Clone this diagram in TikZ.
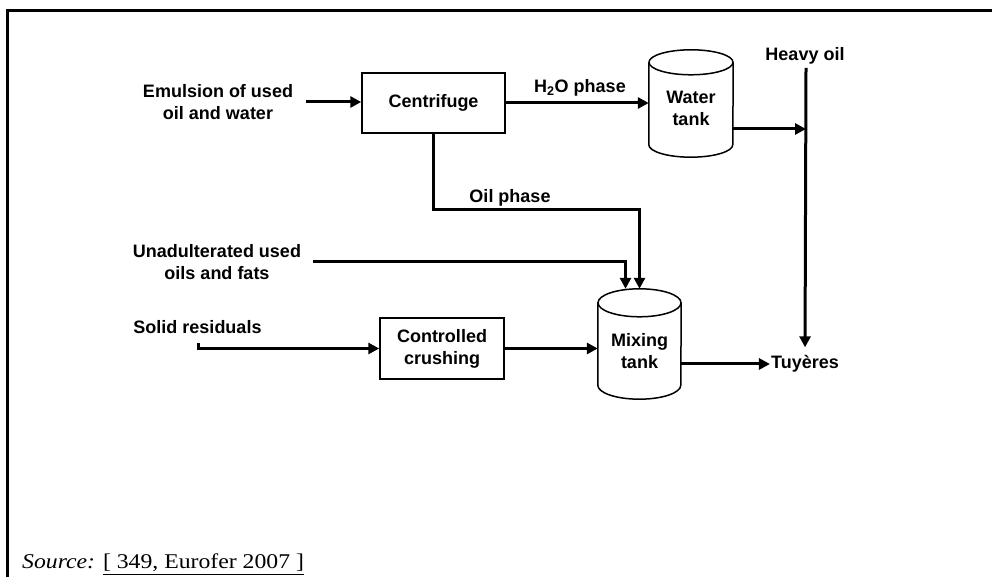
\documentclass[tikz,border=0pt]{standalone}
\usepackage{fontspec}
\setmainfont{Liberation Sans}
\newfontfamily\srcfont{Liberation Serif}[FakeStretch=1.13]
\usetikzlibrary{arrows.meta,calc}

\begin{document}
\begin{tikzpicture}[x=1pt, y=1pt,
    proc/.style={rectangle, draw, line width=1.5pt, inner sep=0pt, align=center, font=\fontsize{18pt}{22pt}\selectfont\bfseries},
    tank/.style={rectangle, inner sep=0pt},
    lbl/.style={inner sep=1pt, align=center, font=\fontsize{18pt}{22pt}\selectfont\bfseries},
    vessel/.style={line width=1.5pt},
    flow/.style={line width=3pt, -{Triangle[length=11pt, width=11pt]}},
    >=Stealth
]
\useasboundingbox (0,0) rectangle (992,577);
\draw[line width=3pt] (7,0) -- (7,566) -- (992,566);

% process boxes and tanks
\node[proc, minimum width=143pt, minimum height=60pt] (centri) at (433.5,474) {Centrifuge};
\node[proc, minimum width=124pt, minimum height=61pt] (crush) at (442,228.5) {Controlled\\crushing};
\node[tank, minimum width=84pt, minimum height=107pt] (water) at (691,473.5) {};
\node[tank, minimum width=83pt, minimum height=110pt] (mixing) at (639.5,233) {};
\node[lbl] (watertxt) at (691,468.5) {Water\\tank};
\node[lbl] (mixingtxt) at (639.5,226) {Mixing\\tank};

\foreach \t/\rx/\ry in {water/42/12.5, mixing/41.5/14} {
    \draw[vessel] ($(\t.north west)+(0,-\ry)$) -- ($(\t.south west)+(0,\ry)$)
        arc[start angle=180, end angle=360, x radius=\rx, y radius=\ry]
        -- ($(\t.north east)+(0,-\ry)$);
    \draw[vessel] ($(\t.north)+(0,-\ry)$) ellipse[x radius=\rx, y radius=\ry];
}

% stream labels
\node[lbl] (emul) at (218,475) {Emulsion of used\\oil and water};
\node[lbl] (unadult) at (217,315) {Unadulterated used\\oils and fats};
\node[lbl] (solid) at (197.5,250) {Solid residuals};
\node[lbl] (htwo) at (580,489) {H\textsubscript{2}O phase};
\node[lbl] (oilph) at (510,379) {Oil phase};
\node[lbl] (heavy) at (805,521) {Heavy oil};
\node[lbl] (tuy) at (805,213) {Tuyères};

\coordinate (hotop) at (806,509);
\coordinate (join) at (806,448);
\coordinate (solidstart) at (198,234);
\coordinate (oilturn) at (639.5,367);

% connections
\draw[flow, shorten <=12pt] (emul.east) -- (emul.east -| centri.west);
\draw[flow] (centri.east) -- (centri.east -| water.west);
\draw[flow] (water.east |- join) -- (join);
\draw[flow, shorten >=7pt] (hotop) -- (tuy.north);
\draw[flow] (centri.south) |- (oilturn) -- (mixing.north);
\draw[flow, shorten <=11pt] (unadult.east) -| ($(mixing.north)+(-14,0)$);
\draw[flow] (solidstart) |- (crush.west);
\draw[flow] (crush.east) -- (crush.east -| mixing.west);
\draw[flow] (mixing.east |- tuy.west) -- (tuy.west);

\node[anchor=base west, inner sep=0pt, font=\srcfont\fontsize{21pt}{24pt}\selectfont] (src) at (22,8) {\textit{Source:} \underline{\smash{[ 349, Eurofer 2007 ]}\rule[-3.5pt]{0pt}{0pt}}};
\end{tikzpicture}
\end{document}
